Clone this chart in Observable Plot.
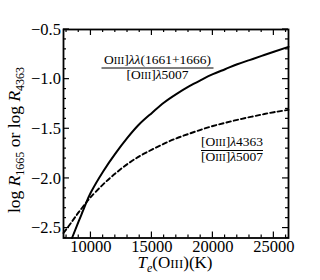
<!DOCTYPE html>
<html><head><meta charset="utf-8">
<script src="https://cdn.jsdelivr.net/npm/d3@7"></script>
<script src="https://cdn.jsdelivr.net/npm/@observablehq/plot@0.6"></script>
<style>html,body{margin:0;padding:0;background:#fff}svg{display:block}svg text{font-family:"Liberation Serif","DejaVu Serif",serif}</style>
</head><body><div id="chart"></div>
<script>
// Solid: log R1665 = OIII]λλ(1661+1666)/[OIII]λ5007
const solidTe   = [8450, 9000, 9500, 10000, 11000, 12000, 13000, 14000, 15000, 16000, 17000, 18000, 19000, 20000, 21000, 22000, 23000, 24000, 25000, 26200];
const solidLogR = [-2.60, -2.43, -2.28, -2.14, -1.93, -1.75, -1.59, -1.45, -1.34, -1.235, -1.15, -1.075, -1.01, -0.95, -0.90, -0.85, -0.808, -0.766, -0.724, -0.675];
// Dashed: log R4363 = [OIII]λ4363/[OIII]λ5007
const dashTe    = [7750, 8500, 9000, 9600, 10000, 11000, 12000, 13000, 14000, 15000, 16000, 17000, 18000, 19000, 20000, 21000, 22000, 23000, 24000, 25000, 26200];
const dashLogR  = [-2.55, -2.425, -2.34, -2.245, -2.185, -2.06, -1.95, -1.855, -1.775, -1.71, -1.65, -1.597, -1.552, -1.51, -1.472, -1.44, -1.41, -1.383, -1.357, -1.333, -1.31];

const xDomain = [7750, 26200];
const yDomain = [-2.6, -0.5];
const xMajor = [10000, 15000, 20000, 25000];
const xMinor = [8000, 9000, 11000, 12000, 13000, 14000, 16000, 17000, 18000, 19000, 21000, 22000, 23000, 24000, 26000];
const yMajor = [-2.5, -2.0, -1.5, -1.0, -0.5];
const yMinor = [-2.6, -2.4, -2.3, -2.2, -2.1, -1.9, -1.8, -1.7, -1.6, -1.4, -1.3, -1.2, -1.1, -0.9, -0.8, -0.7, -0.6];

const solid = solidTe.map((t, i) => ({t, v: solidLogR[i]}));
const dashed = dashTe.map((t, i) => ({t, v: dashLogR[i]}));

const FONT = "Liberation Serif";

const plot = Plot.plot({
  width: 320, height: 280,
  marginLeft: 63, marginRight: 32, marginTop: 29, marginBottom: 42.5,
  style: "font-family: 'Liberation Serif', serif; font-size: 16.5px; background: #fff; color: #000; overflow: visible;",
  x: {domain: xDomain},
  y: {domain: yDomain},
  marks: [
    Plot.axisX({ticks: xMajor, tickSize: 0, tickPadding: 2.5, tickFormat: d3.format("d"), label: null, fontFamily: FONT, fontSize: 16.5}),
    Plot.axisY({ticks: yMajor, tickSize: 0, tickPadding: 2.5, tickFormat: d3.format(".1f"), label: null, fontFamily: FONT, fontSize: 16.5}),
    Plot.line(solid, {x: "t", y: "v", stroke: "#000", strokeWidth: 2, curve: "natural"}),
    Plot.line(dashed, {x: "t", y: "v", stroke: "#000", strokeWidth: 1.9, strokeDasharray: "4.5,3", curve: "natural"}),
    Plot.frame({stroke: "#000", strokeWidth: 1.8})
  ]
});
document.getElementById("chart").appendChild(plot);

const svg = d3.select(plot);
const sx = plot.scale("x"), sy = plot.scale("y");
const [x0, x1] = sx.range, [y0, y1] = sy.range; // y0 bottom, y1 top
const g = svg.append("g").attr("stroke", "#000").attr("stroke-width", 1.2);
function tx(vals, len) {
  vals.forEach(v => {
    const x = sx.apply(v);
    g.append("line").attr("x1", x).attr("x2", x).attr("y1", y0).attr("y2", y0 - len);
    g.append("line").attr("x1", x).attr("x2", x).attr("y1", y1).attr("y2", y1 + len);
  });
}
function ty(vals, len) {
  vals.forEach(v => {
    const y = sy.apply(v);
    g.append("line").attr("y1", y).attr("y2", y).attr("x1", x0).attr("x2", x0 + len);
    g.append("line").attr("y1", y).attr("y2", y).attr("x1", x1).attr("x2", x1 - len);
  });
}
tx(xMajor, 6); tx(xMinor, 3); ty(yMajor, 6); ty(yMinor, 3);

const lab = svg.append("g").attr("fill", "#000");

// Y axis title
const yt = lab.append("text").attr("transform", "translate(20,140) rotate(-90)")
  .attr("text-anchor", "middle").style("font-size", "17.5px");
yt.append("tspan").text("log ");
yt.append("tspan").attr("font-style", "italic").text("R");
yt.append("tspan").style("font-size", "12px").attr("dy", 4).text("1665");
yt.append("tspan").attr("dy", -4).text(" or log ");
yt.append("tspan").attr("font-style", "italic").text("R");
yt.append("tspan").style("font-size", "12px").attr("dy", 4).text("4363");

// X axis title
const xt = lab.append("text").attr("x", 175).attr("y", 267.5).attr("text-anchor", "middle").style("font-size", "17px");
xt.append("tspan").attr("font-style", "italic").text("T");
xt.append("tspan").attr("font-style", "italic").style("font-size", "12px").attr("dy", 4).text("e");
xt.append("tspan").attr("dy", -4).text("(O");
xt.append("tspan").style("font-size", "13px").text("III");
xt.append("tspan").text(")(K)");

// Fraction labels
function oiii(t, pre) {
  t.append("tspan").text(pre + "O");
  t.append("tspan").style("font-size", "10.5px").text("III");
  t.append("tspan").text("]");
}
function fraction(cx, yLine, w, num, denRest) {
  const n = lab.append("text").attr("x", cx).attr("y", yLine - 4.5).attr("text-anchor", "middle").style("font-size", "13.5px");
  oiii(n, num.pre);
  n.append("tspan").attr("font-style", "italic").text(num.lam);
  n.append("tspan").text(num.tail);
  lab.append("line").attr("x1", cx - w / 2).attr("x2", cx + w / 2).attr("y1", yLine).attr("y2", yLine)
    .attr("stroke", "#000").attr("stroke-width", 1);
  const d = lab.append("text").attr("x", cx).attr("y", yLine + 10.5).attr("text-anchor", "middle").style("font-size", "13.5px");
  oiii(d, "[");
  d.append("tspan").attr("font-style", "italic").text("λ");
  d.append("tspan").text(denRest);
}
fraction(157.5, 68, 112, {pre: "", lam: "λλ", tail: "(1661+1666)"}, "5007");
fraction(232, 150.5, 62, {pre: "[", lam: "λ", tail: "4363"}, "5007");
</script>
</body></html>
